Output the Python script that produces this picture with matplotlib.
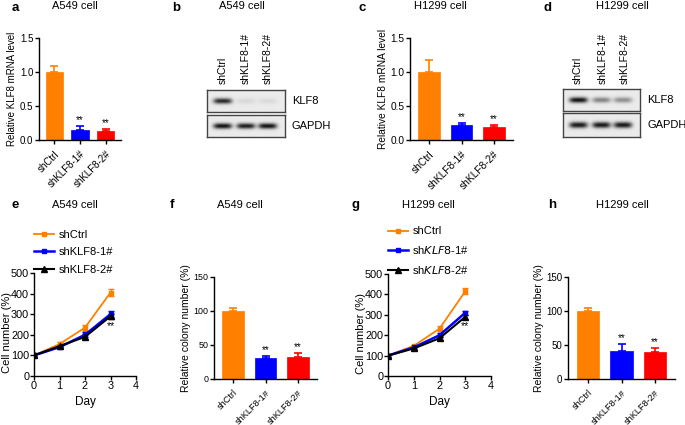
import numpy as np
import matplotlib.pyplot as plt
from matplotlib.lines import Line2D

plt.rcParams['font.family'] = ['Liberation Sans', 'DejaVu Sans']
plt.rcParams['font.size'] = 7.5

W, H = 685, 425
ORANGE = '#FF8000'
BLUE = '#0000FF'
RED = '#FF0000'
bar_colors = [ORANGE, BLUE, RED]

groups = ['shCtrl', 'shKLF8-1#', 'shKLF8-2#']

# a / c: relative KLF8 mRNA level
mrna_a549 = [1.0, 0.15, 0.13]
mrna_a549_err = [0.09, 0.05, 0.03]
mrna_h1299 = [1.0, 0.22, 0.19]
mrna_h1299_err = [0.18, 0.03, 0.03]

# e / g: cell number (%)
days = [0, 1, 2, 3]
cell_a549 = {'shCtrl': [100, 155, 235, 405],
             'shKLF8-1#': [100, 140, 200, 300],
             'shKLF8-2#': [100, 145, 190, 290]}
cell_a549_err = {'shCtrl': [5, 8, 15, 15],
                 'shKLF8-1#': [10, 6, 12, 15],
                 'shKLF8-2#': [5, 6, 12, 12]}
cell_h1299 = {'shCtrl': [100, 148, 232, 415],
              'shKLF8-1#': [100, 140, 200, 310],
              'shKLF8-2#': [100, 135, 185, 290]}
cell_h1299_err = {'shCtrl': [5, 6, 12, 15],
                  'shKLF8-1#': [10, 6, 10, 10],
                  'shKLF8-2#': [5, 6, 8, 10]}

# f / h: relative colony number (%)
colony_a549 = [100, 31, 33]
colony_a549_err = [5, 3, 5]
colony_h1299 = [100, 41, 40]
colony_h1299_err = [5, 10, 5]

# b / d: western blot band intensities (0 = none, 1 = strong)
blot_a549 = {'KLF8': [0.85, 0.08, 0.07], 'GAPDH': [0.95, 0.9, 0.95]}
blot_h1299 = {'KLF8': [0.95, 0.45, 0.4], 'GAPDH': [0.92, 0.92, 0.92]}


def px(x0, y0, x1, y1):
    return [x0 / W, 1 - y1 / H, (x1 - x0) / W, (y1 - y0) / H]


def fig_text(fig, x, y, s, **kw):
    fig.text(x / W, 1 - y / H, s, **kw)


def style_axes(ax, fs):
    for s in ['top', 'right']:
        ax.spines[s].set_visible(False)
    for s in ['left', 'bottom']:
        ax.spines[s].set_linewidth(1.0)
    ax.tick_params(direction='out', length=3, width=1.0, pad=1, labelsize=fs)


def bar_panel(ax, vals, errs, ylim, yticks, ylabel, fs, lfs, xfs):
    x = np.arange(len(vals))
    ax.bar(x, vals, width=0.68, color=bar_colors, edgecolor=bar_colors, linewidth=0.5)
    for i in range(len(vals)):
        ax.errorbar(x[i], vals[i], yerr=[[0], [errs[i]]], color=bar_colors[i],
                    capsize=3, elinewidth=1.2, capthick=1.2)
        if i > 0:
            ax.text(x[i], vals[i] + errs[i] + ylim[1] * 0.01, '**', ha='center',
                    va='bottom', fontsize=7)
    ax.set_xlim(-0.6, len(vals) - 0.4)
    ax.set_ylim(*ylim)
    ax.set_yticks(yticks)
    ax.set_xticks(x)
    style_axes(ax, fs)
    ax.set_xticklabels(groups, rotation=45, ha='right', rotation_mode='anchor',
                       fontsize=xfs)
    ax.tick_params(axis='x', pad=3.5)
    ax.set_ylabel(ylabel, fontsize=lfs, labelpad=2)


def line_panel(ax, data, errs, labels, star_y):
    colors = [ORANGE, BLUE, 'black']
    markers = ['s', 's', '^']
    sizes = [2.5, 2.5, 4]
    widths = [1.3, 1.8, 1.5]
    handles = []
    for i, g in enumerate(groups):
        ax.errorbar(days, data[g], yerr=errs[g], color=colors[i], marker=markers[i],
                    markersize=sizes[i], linewidth=widths[i], capsize=2, elinewidth=1)
        handles.append(Line2D([], [], color=colors[i], marker=markers[i],
                              markersize=sizes[i], linewidth=widths[i]))
    ax.text(3, star_y, '**', ha='center', va='center', fontsize=7.5)
    ax.set_xlim(0, 4)
    ax.set_ylim(0, 500)
    ax.set_xticks([0, 1, 2, 3, 4])
    ax.set_yticks([0, 100, 200, 300, 400, 500])
    style_axes(ax, 7.8)
    ax.tick_params(pad=0.5)
    ax.set_xlabel('Day', fontsize=8.5)
    ax.set_ylabel('Cell number (%)', fontsize=8)
    ax.yaxis.set_label_coords(-0.215, 0.42)
    ax.legend(handles, labels, loc='lower left', bbox_to_anchor=(0.0, 0.98),
              frameon=False, handlelength=1.8, labelspacing=0.7, handletextpad=0.4,
              borderpad=0, borderaxespad=0, fontsize=8)


def blot_strip(ax, intens):
    nx, ny = 160, 44
    xs = np.linspace(0, 1, nx)
    ys = np.linspace(0, 1, ny)
    centers = [0.2, 0.5, 0.78]
    img = np.zeros((ny, nx))
    for c, v in zip(centers, intens):
        prof_x = np.exp(-((xs - c) / 0.12) ** 4)
        prof_y = np.exp(-((ys - 0.5) / 0.13) ** 2)
        img += v * np.outer(prof_y, prof_x)
    img = 0.92 - 0.9 * np.clip(img, 0, 1)
    ax.imshow(img, cmap='gray', vmin=0, vmax=1, aspect='auto', interpolation='bilinear')
    ax.set_xticks([])
    ax.set_yticks([])
    for s in ax.spines.values():
        s.set_linewidth(1.0)
        s.set_color('#444444')


def blot_panel(fig, x0, x1, y_k, y_g, data, lane_x, lab_bottom, lab_x):
    ax1 = fig.add_axes(px(x0, y_k[0], x1, y_k[1]))
    blot_strip(ax1, data['KLF8'])
    ax2 = fig.add_axes(px(x0, y_g[0], x1, y_g[1]))
    blot_strip(ax2, data['GAPDH'])
    for xl, g in zip(lane_x, groups):
        fig_text(fig, xl, lab_bottom, g, rotation=90, ha='center', va='bottom')
    fig_text(fig, lab_x, (y_k[0] + y_k[1]) / 2, 'KLF8', ha='left', va='center', fontsize=8)
    fig_text(fig, lab_x, (y_g[0] + y_g[1]) / 2, 'GAPDH', ha='left', va='center', fontsize=8)


fig = plt.figure(figsize=(W / 100, H / 100), dpi=100)

# a
ax = fig.add_axes(px(39, 38, 121, 140))
bar_panel(ax, mrna_a549, mrna_a549_err, (0, 1.5), [0, 0.5, 1.0, 1.5],
          'Relative KLF8 mRNA level', 7, 7, 7)
ax.set_yticklabels(['0.0', '0.5', '1.0', '1.5'])

# c
ax = fig.add_axes(px(410, 38, 513, 140))
bar_panel(ax, mrna_h1299, mrna_h1299_err, (0, 1.5), [0, 0.5, 1.0, 1.5],
          'Relative KLF8 mRNA level', 7.3, 7.3, 7.3)
ax.set_yticklabels(['0.0', '0.5', '1.0', '1.5'])

# b, d
blot_panel(fig, 207, 285, (90, 112), (115, 137), blot_a549, [223, 246, 268], 84, 292)
blot_panel(fig, 563, 640, (89, 111), (113, 137), blot_h1299, [578, 603, 625], 84, 647)

# e
ax = fig.add_axes(px(34, 273, 136, 376))
line_panel(ax, cell_a549, cell_a549_err, groups, 240)

# g
ax = fig.add_axes(px(388, 274, 491, 376))
line_panel(ax, cell_h1299, cell_h1299_err,
           ['shCtrl', r'sh$\it{KLF8}$-1#', r'sh$\it{KLF8}$-2#'], 245)

# f
ax = fig.add_axes(px(214, 277, 317, 379))
bar_panel(ax, colony_a549, colony_a549_err, (0, 150), [0, 50, 100, 150],
          'Relative colony number (%)', 6.4, 7.5, 6.6)

# h
ax = fig.add_axes(px(568, 277, 675, 379))
bar_panel(ax, colony_h1299, colony_h1299_err, (0, 150), [0, 50, 100, 150],
          'Relative colony number (%)', 7, 7.5, 6.6)

# panel letters and titles
letters = [('a', 15, 8), ('b', 176, 8), ('c', 362, 8), ('d', 548, 8),
           ('e', 15, 205), ('f', 172, 205), ('g', 356, 205), ('h', 552, 205)]
for s, x, y in letters:
    fig_text(fig, x, y, s, fontsize=9.5, fontweight='bold', ha='center', va='center')

titles = [('A549 cell', 75, 6), ('A549 cell', 242, 6), ('H1299 cell', 440, 6),
          ('H1299 cell', 622, 6), ('A549 cell', 75, 205), ('A549 cell', 240, 205),
          ('H1299 cell', 428, 205), ('H1299 cell', 622, 205)]
for s, x, y in titles:
    fig_text(fig, x, y, s, fontsize=8, ha='center', va='center')

fig.savefig('out.png', dpi=100)
